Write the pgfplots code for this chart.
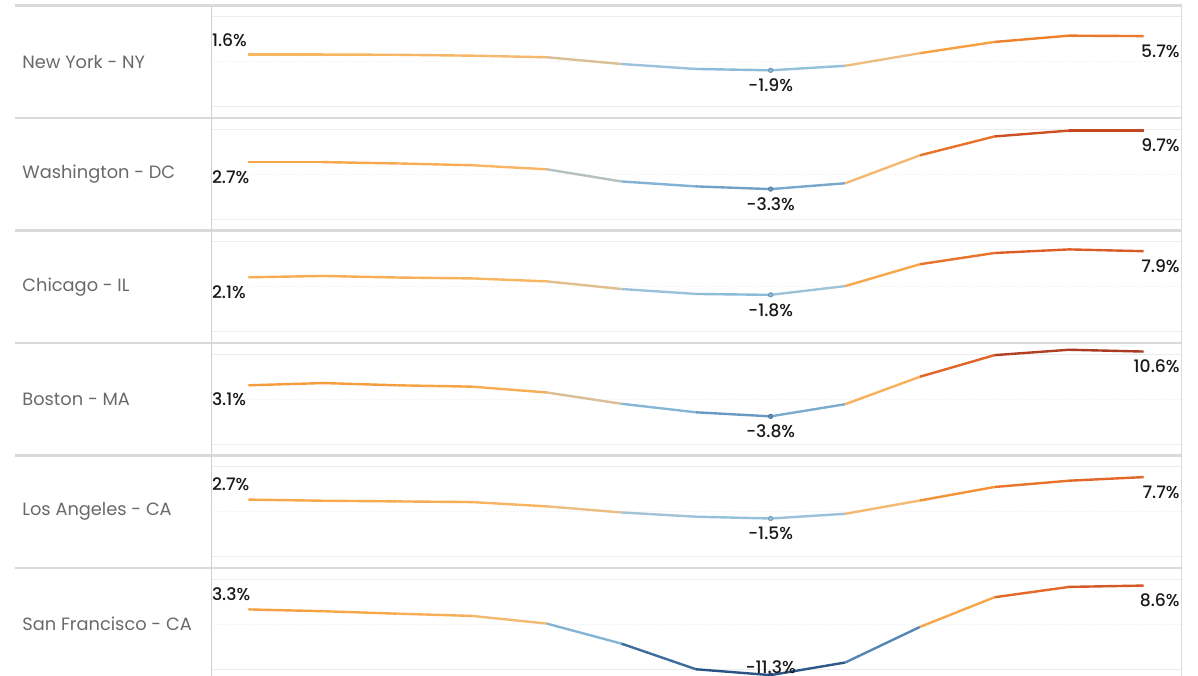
\documentclass[border=0pt]{standalone}
\usepackage{pgfplots}
\pgfplotsset{compat=1.18}
\usepackage{fontspec}
\setmainfont{Poppins}
\newfontfamily\valfont{Poppins Medium}

\definecolor{gridc}{RGB}{236,236,236}
\definecolor{zeroc}{RGB}{200,200,200}
\definecolor{sepc}{RGB}{218,218,218}
\definecolor{vlinec}{RGB}{208,208,208}
\definecolor{namec}{RGB}{105,105,105}
\definecolor{valc}{RGB}{25,25,25}

% diverging blue -> orange map, positions are value + 12
\pgfplotsset{
  colormap={orangeblue}{
    rgb255(0pt)=(35,75,125);
    rgb255(4pt)=(55,100,150);
    rgb255(8pt)=(90,140,185);
    rgb255(10.5pt)=(145,192,222);
    rgb255(11.5pt)=(165,196,214);
    rgb255(12pt)=(198,190,170);
    rgb255(12.5pt)=(236,190,130);
    rgb255(13.5pt)=(248,182,100);
    rgb255(15pt)=(247,162,65);
    rgb255(17pt)=(240,130,45);
    rgb255(19.5pt)=(225,100,40);
    rgb255(21.5pt)=(200,75,35);
    rgb255(23pt)=(165,55,35)
  },
  row axis/.style={
    anchor=north west,
    width=485bp, height=56.25bp, scale only axis,
    xmin=-0.5, xmax=12.5, ymin=-12.5, ymax=12.5,
    axis line style={draw=none},
    xtick=\empty, ytick={-10,10}, yticklabels={},
    major tick length=0pt,
    ymajorgrids,
    major grid style={color=gridc, line width=0.5bp},
    extra y ticks={0}, extra y tick labels={},
    extra y tick style={grid style={color=zeroc, line width=0.5bp, dash pattern=on 0.5bp off 1bp}},
    clip=false,
    colormap name=orangeblue,
    point meta min=-12, point meta max=11,
  },
}

\tikzset{
  vlabel/.style={inner sep=0pt, text=valc, font=\valfont\fontsize{8.6bp}{10bp}\selectfont},
  rowlabel/.style={inner sep=0pt, text=namec, font=\fontsize{8.9bp}{10.5bp}\selectfont},
}

% #1 row (0..5), #2 city, #3 coordinates, #4 first value, #5 shift of first label,
% #6 lowest value (quarter 7), #7 shift of lowest label, #8 last value
\newcommand{\cityrow}[8]{%
  \begin{axis}[row axis, at={(105.5bp,{-2.75bp-#1*56.25bp})}]
    \addplot[mesh, line width=1.2bp, line join=round, point meta=y] coordinates {#3};
    \addplot[scatter, only marks, mark=*, mark size=1.1bp, point meta=y] coordinates {(7,#6)};
    \node[vlabel, anchor=west, xshift=0.3bp, yshift=#5] at (axis cs:-0.5,#4) {#4\%};
    \node[vlabel, anchor=center, yshift=#7] at (axis cs:7,#6) {#6\%};
    \node[vlabel, anchor=east, xshift=-0.5bp, yshift=-7.5bp] at (axis cs:12.5,#8) {#8\%};
  \end{axis}
  \node[rowlabel, anchor=west] at (11bp,{-2.75bp-#1*56.25bp-28.1bp}) {#2};
}

\begin{document}
\begin{tikzpicture}
\path[use as bounding box] (0,0) rectangle (599bp,-338bp);
\clip (0,0) rectangle (599bp,-338bp);

\cityrow{0}{New York - NY}{(0,1.6) (1,1.6) (2,1.55) (3,1.35) (4,1.0) (5,-0.5) (6,-1.6) (7,-1.9) (8,-0.9) (9,1.9) (10,4.4) (11,5.8) (12,5.7)}{1.6}{7bp}{-1.9}{-7.5bp}{5.7}
\cityrow{1}{Washington - DC}{(0,2.7) (1,2.7) (2,2.4) (3,2.0) (4,1.1) (5,-1.6) (6,-2.7) (7,-3.3) (8,-2.0) (9,4.2) (10,8.4) (11,9.7) (12,9.7)}{2.7}{-7.5bp}{-3.3}{-7.5bp}{9.7}
\cityrow{2}{Chicago - IL}{(0,2.1) (1,2.4) (2,2.05) (3,1.85) (4,1.2) (5,-0.5) (6,-1.6) (7,-1.8) (8,0.15) (9,5.0) (10,7.5) (11,8.3) (12,7.9)}{2.1}{-7.5bp}{-1.8}{-7.5bp}{7.9}
\cityrow{3}{Boston - MA}{(0,3.1) (1,3.6) (2,3.1) (3,2.8) (4,1.5) (5,-1.0) (6,-2.9) (7,-3.8) (8,-1.1) (9,5.0) (10,9.8) (11,11.0) (12,10.6)}{3.1}{-7bp}{-3.8}{-7.5bp}{10.6}
\cityrow{4}{Los Angeles - CA}{(0,2.7) (1,2.45) (2,2.3) (3,2.15) (4,1.2) (5,-0.15) (6,-1.1) (7,-1.5) (8,-0.45) (9,2.5) (10,5.5) (11,6.9) (12,7.7)}{2.7}{7.5bp}{-1.5}{-7.5bp}{7.7}
\cityrow{5}{San Francisco - CA}{(0,3.3) (1,2.9) (2,2.35) (3,1.85) (4,0.15) (5,-4.3) (6,-10.0) (7,-11.3) (8,-8.5) (9,-0.6) (10,6.0) (11,8.3) (12,8.6)}{3.3}{7.5bp}{-11.3}{4.2bp}{8.6}

% row separators and frame
\foreach \k in {0,...,5}
  \draw[sepc, line width=1.1bp] (7.5bp,{-2.75bp-\k*56.25bp}) -- (590.8bp,{-2.75bp-\k*56.25bp});
\draw[vlinec, line width=0.5bp] (105.5bp,-2.75bp) -- (105.5bp,-338bp);
\draw[sepc, line width=0.6bp] (590.8bp,-2.75bp) -- (590.8bp,-338bp);
\end{tikzpicture}
\end{document}
